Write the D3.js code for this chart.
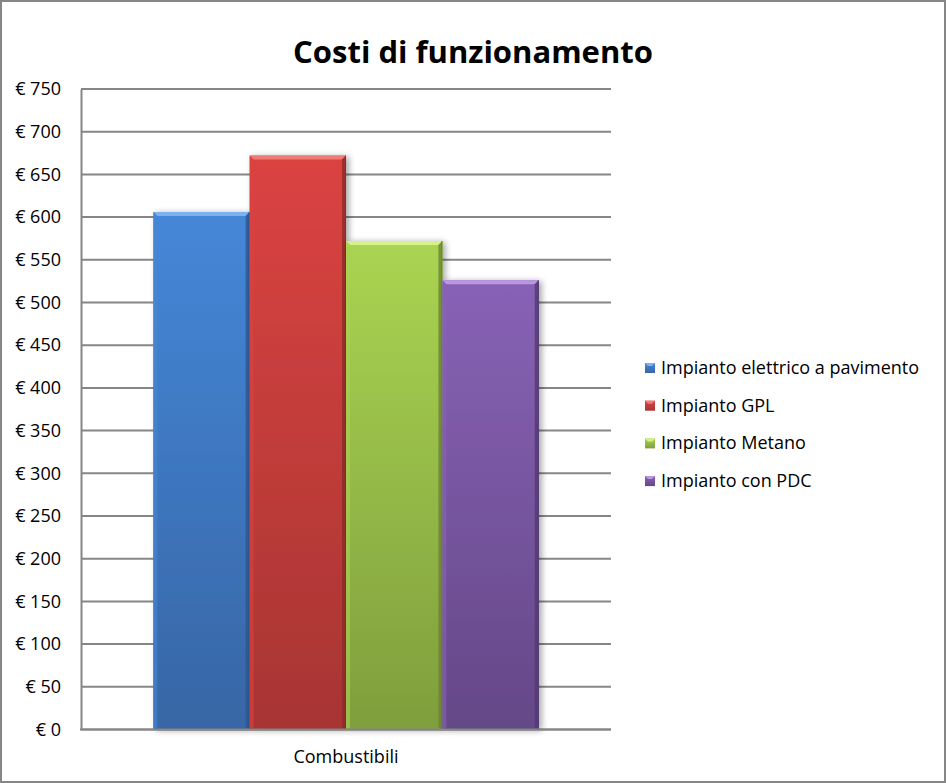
<!DOCTYPE html>
<html>
<head>
<meta charset="utf-8">
<script src="https://cdn.jsdelivr.net/npm/d3@7"></script>
<style>
	body { margin:0; background:#fff; }
	text { font-family:"Open Sans", "Noto Sans", sans-serif; fill:#000; }
</style>
</head>
<body>
<div id="chart-area"></div>
<script>
const categories = ['Combustibili']
const seriesNames = ['Impianto elettrico a pavimento','Impianto GPL','Impianto Metano','Impianto con PDC']
const seriesValues = [606, 672, 572, 526]
const yTicks = [0,50,100,150,200,250,300,350,400,450,500,550,600,650,700,750]
const seriesColors = [
	{top:'#4587d8', bottom:'#3766a5', light:'#7cb2f0', dark:'#2c5690'},
	{top:'#db4341', bottom:'#a73533', light:'#f07a78', dark:'#8e2a28'},
	{top:'#aad452', bottom:'#7f9e3d', light:'#d3f38a', dark:'#6a8630'},
	{top:'#8862b6', bottom:'#644887', light:'#b996e0', dark:'#523a72'}
]

const W = 946, H = 783
const PLOT = {LEFT:81, RIGHT:611, TOP:89, BOTTOM:729.5}

const svg = d3.select('#chart-area')
.append('svg')
.attr('width',W)
.attr('height',H)

const defs = svg.append('defs')

const shadow = defs.append('filter')
.attr('id','shadow')
.attr('x','-10%').attr('y','-5%').attr('width','130%').attr('height','110%')
shadow.append('feGaussianBlur').attr('in','SourceAlpha').attr('stdDeviation',3).attr('result','b')
shadow.append('feOffset').attr('in','b').attr('dx',3).attr('dy',1).attr('result','o')
shadow.append('feComponentTransfer').attr('in','o').attr('result','s')
.append('feFuncA').attr('type','linear').attr('slope',0.35)
const merge = shadow.append('feMerge')
merge.append('feMergeNode').attr('in','s')
merge.append('feMergeNode').attr('in','SourceGraphic')

seriesColors.forEach((c,i)=>{
	const grad = defs.append('linearGradient')
	.attr('id',`grad${i}`)
	.attr('x1',0).attr('y1',0).attr('x2',0).attr('y2',1)
	grad.append('stop').attr('offset','0%').attr('stop-color',c.top)
	grad.append('stop').attr('offset','100%').attr('stop-color',c.bottom)
})

// background frame
svg.append('rect')
.attr('x',1).attr('y',1)
.attr('width',W-2).attr('height',H-2)
.attr('fill','#fff')
.attr('stroke','#868686')
.attr('stroke-width',2)

svg.append('text')
.attr('x',W/2)
.attr('y',63)
.attr('text-anchor','middle')
.style('font-size','31px')
.style('font-weight','bold')
.text('Costi di funzionamento')

const y = d3.scaleLinear()
.domain([0,750])
.range([PLOT.BOTTOM,PLOT.TOP])

const x0 = d3.scaleBand()
.domain(categories)
.range([PLOT.LEFT,PLOT.RIGHT])
.paddingInner(1.5/5.5)
.paddingOuter(0.75/5.5)

const x1 = d3.scaleBand()
.domain(seriesNames)
.range([0,x0.bandwidth()])
.padding(0)

// gridlines
svg.append('g')
.selectAll('line')
.data(yTicks)
.enter().append('line')
.attr('x1',PLOT.LEFT)
.attr('x2',PLOT.RIGHT)
.attr('y1',d=>y(d))
.attr('y2',d=>y(d))
.attr('stroke','#868686')
.attr('stroke-width',2)

// y axis
const yAxis = svg.append('g')
.attr('transform',`translate(${PLOT.LEFT},0)`)
.call(d3.axisLeft(y).tickValues(yTicks).tickSize(0).tickPadding(20).tickFormat(d=>`€ ${d}`))
yAxis.select('.domain').attr('stroke','#868686').attr('stroke-width',2)
yAxis.selectAll('text').style('font-size','18px').attr('fill','#000')

// bars
const bars = svg.append('g')
const bw = x1.bandwidth()
const bev = 4
seriesNames.forEach((name,i)=>{
	const c = seriesColors[i]
	const v = seriesValues[i]
	const bx = x0(categories[0]) + x1(name)
	const by = y(v)
	const bh = y(0) - y(v)
	const g = bars.append('g')
	g.append('rect')
	.attr('x',bx).attr('y',by)
	.attr('width',bw).attr('height',bh)
	.attr('fill',`url(#grad${i})`)
	.attr('filter','url(#shadow)')
	// top bevel
	g.append('path')
	.attr('d',`M${bx},${by} L${bx+bw},${by} L${bx+bw-bev},${by+bev} L${bx+bev},${by+bev} Z`)
	.attr('fill',c.light)
	// left bevel
	g.append('path')
	.attr('d',`M${bx},${by} L${bx+bev},${by+bev} L${bx+bev},${by+bh-2} L${bx},${by+bh} Z`)
	.attr('fill',c.top).attr('opacity',0.6)
	// right bevel
	g.append('path')
	.attr('d',`M${bx+bw},${by} L${bx+bw-bev},${by+bev} L${bx+bw-bev},${by+bh-2} L${bx+bw},${by+bh} Z`)
	.attr('fill',c.dark).attr('opacity',0.8)
	g.append('line')
	.attr('x1',bx+bw-0.5).attr('x2',bx+bw-0.5)
	.attr('y1',by).attr('y2',by+bh)
	.attr('stroke',c.dark).attr('stroke-width',1)
})

// x axis baseline and label
svg.append('line')
.attr('x1',PLOT.LEFT-1)
.attr('x2',PLOT.RIGHT)
.attr('y1',y(0))
.attr('y2',y(0))
.attr('stroke','#868686')
.attr('stroke-width',2)

svg.append('text')
.attr('x',x0(categories[0]) + x0.bandwidth()/2)
.attr('y',763)
.attr('text-anchor','middle')
.style('font-size','18px')
.text(categories[0])

// legend
const legend = svg.append('g')
.attr('transform','translate(645,363)')
seriesNames.forEach((name,i)=>{
	const row = legend.append('g')
	.attr('transform',`translate(0,${i*37.7})`)
	row.append('rect')
	.attr('width',10).attr('height',10)
	.attr('fill',`url(#grad${i})`)
	row.append('path')
	.attr('d','M0,0 L10,0 L7,3 L3,3 Z')
	.attr('fill',seriesColors[i].light)
	row.append('text')
	.attr('x',16)
	.attr('y',11)
	.style('font-size','18px')
	.text(name)
})
</script>
</body>
</html>
